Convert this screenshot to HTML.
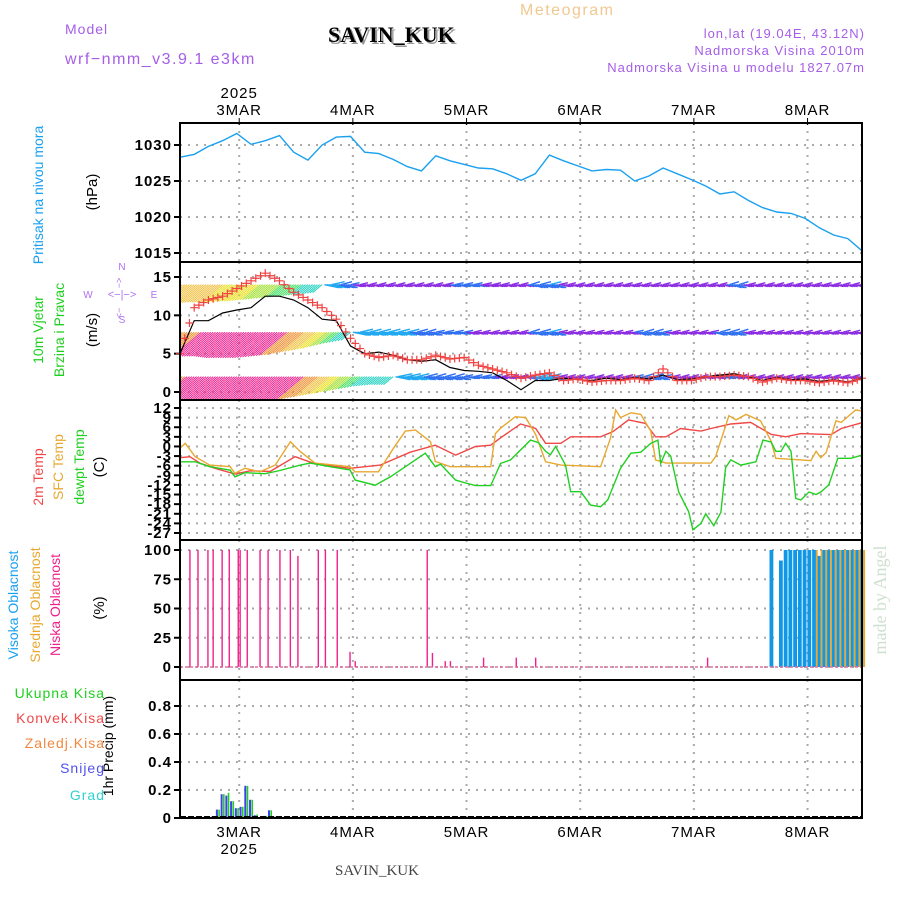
<!DOCTYPE html>
<html><head><meta charset="utf-8"><style>
body{margin:0;background:#fff}
svg{display:block;font-family:"Liberation Sans",sans-serif}
</style></head><body>
<svg id="c" width="900" height="900" viewBox="0 0 900 900">
<g id="hdr">
<text x="65" y="34" fill="#a55ee8" font-size="14" letter-spacing="1">Model</text>
<text x="65" y="64" fill="#a55ee8" font-size="16" letter-spacing="1.5">wrf−nmm_v3.9.1 e3km</text>
<text x="330" y="44" fill="#999" font-size="22" font-weight="bold" font-family="Liberation Serif,serif">SAVIN_KUK</text>
<text x="328" y="42" fill="#000" font-size="22" font-weight="bold" font-family="Liberation Serif,serif">SAVIN_KUK</text>
<text x="520" y="15" fill="#f0c890" font-size="16" letter-spacing="1.5">Meteogram</text>
<text x="865" y="38" fill="#a55ee8" font-size="13" letter-spacing="1" text-anchor="end">lon,lat (19.04E, 43.12N)</text>
<text x="865" y="55" fill="#a55ee8" font-size="13" letter-spacing="1" text-anchor="end">Nadmorska Visina 2010m</text>
<text x="865" y="72" fill="#a55ee8" font-size="13" letter-spacing="1" text-anchor="end">Nadmorska Visina u modelu 1827.07m</text>
</g>
</svg>
<script>
// ---- data (hours from start, start = x 180) ----
const dayLabels=["3MAR","4MAR","5MAR","6MAR","7MAR","8MAR"];
const pressureVals=[1028.3,1028.7,1029.8,1030.6,1031.6,1030.1,1030.6,1031.3,1029,1027.9,1030,1031.1,1031.2,1029,1028.8,1028,1027,1026.4,1028.5,1027.8,1027.3,1026.8,1026.7,1026,1025.1,1026,1028.6,1027.8,1027.1,1026.4,1026.6,1026.5,1025,1025.7,1026.8,1026,1025.2,1024.3,1023.2,1023.5,1022.3,1021.3,1020.7,1020.5,1019.8,1018.5,1017.5,1017,1015.3];
const pressureTicks=[1015,1020,1025,1030];
const windSpeed=[5,9.3,9.3,10.3,10.7,11,12.5,12.5,12,11,9.5,9.3,6,5,5.2,4.8,4.2,4,4.2,3.2,2.8,2.7,2.5,1.5,0.3,1.5,1.5,1.8,1.6,1.5,1.8,1.6,1.9,1.7,2.2,1.6,1.7,2,2.2,2.4,2,1.5,1.9,1.6,1.7,1.4,1.6,1.3,1.8];
const gustVals=[5,11,12,12.5,13.5,14.5,15.5,14.5,13,12,11,9.5,7,5,4.5,4.8,4.2,4.2,4.8,4.3,4.5,3.5,3,2.5,1.8,2.2,2.5,1.5,1.7,1.3,1.5,1.5,1.8,1.5,3,1.5,1.5,2,2,2.2,2,1.3,1.8,1.5,1.5,1.2,1.5,1.2,1.8];
const windTopLevel=[12,12,11,11,10.5,10,9,8,7,6,5,4,3,2.5,2.5,2.5,2.5,2.5,2.5,3,3,3,2.8,2.5,2.5,3.5,4,2.5,2.5,2.5,2.5,2.5,2.5,2.5,2.5,2.5,2.5,2.5,2.5,3.5,2.5,2.5,2.5,2.5,2.5,2.5,2.5,2.5,2.5];
const windMidLevel=[13,14,15,15,16,16,16,15,14,12,10,7,5,4,4,4,4,3.5,3,3,3,2.5,2.5,2.5,2.5,3.5,4,2.5,2.5,2.5,2.5,2.5,3,3.5,3,2.5,2.5,2.5,3.5,3.5,2.5,2.5,2.5,2.5,2.5,2.5,2.5,2.5,2.5];
const windLowLevel=[14,15,15,16,17,18,18,17,16,14,12,10,8,6,5,5,4.5,4,3.5,3.5,3,3,3,2.5,2.5,4,4,2.5,2.5,2.5,2.5,2.5,3,3.5,3,2.5,2.5,2.5,3,3,2.5,2.5,2.5,2.5,2.5,2.5,2.5,2.5,2.5];
const windTicks=[0,5,10,15];
const t2Hours=[0,2.1,4.2,7.4,11.6,14.8,19,24.3,28.5,35.9,42.3,48.6,53.9,58.2,62.4,65.6,67.7,71.9,75.1,77.2,80.4,82.5,88.8,91.4,94.7,98.3,100.4,102.6,105.7,110,112.1,116.3,120.5,124.8,127.9,131.1,137.5,139.6,144.2];
const t2Vals=[-3.5,-3.2,-5.2,-6.8,-8.6,-7.6,-7.8,-3.2,-5.4,-6.8,-5.8,-1.8,0.4,-2.7,0,0.4,2.7,7,5.6,1,1,3,3,4.6,8.3,7.2,3,3,5.6,4.8,5.6,7,7.5,3.8,3,4,3.7,5.6,7.5];
const sfcHours=[0,1.1,3.2,6.3,10.6,11.6,13.7,16.9,20.1,23.3,25.4,28.5,35.9,37,41.9,45.5,47.6,49.7,52.9,53.9,57.1,63.4,65.6,66.6,67.7,70.8,73,75.1,77.2,80.4,88.8,90.9,92,93,95.2,97.3,99.4,100.4,102.6,110,112.1,113.1,115.9,117.4,119.5,122.6,124.8,125.8,131.1,133.2,134.3,135.3,136.4,138.5,139.6,142.7,144.2];
const sfcVals=[-0.5,1,-3.2,-5.8,-6.3,-8.4,-6.8,-7.9,-5.8,1.5,-1.6,-5.2,-6.3,-7.9,-7.9,0.4,4.8,5.1,1.5,-4.7,-6.3,-6.3,-6.3,4,5.7,9.3,9,3.7,-4.8,-5.8,-6.3,2.6,11.4,9,10.5,10,4.8,-4.2,-5.2,-5.2,-5.2,-3.1,9.6,8.3,10,8,1.6,-3.7,-4.2,-4.4,-1.5,-3.5,-2,8,7.5,11.4,11];
const dewHours=[0,3.2,6.3,10.6,11.6,13.7,18,21.1,25.4,27.5,31.7,35.9,37,41.2,44.4,47.6,51.8,53.9,55,58.2,60.3,62.4,65.6,67.7,69.8,74,75.7,77.2,78.2,79.3,81.4,82.5,84.6,86.7,88.8,90.3,93,95.2,97.3,99.4,100.9,101.5,102.6,103.6,105.3,107.4,108.3,110,111,112.7,114.2,115.2,116.3,118.4,121.6,123.1,124.8,125.8,126.9,127.9,129,130,131.1,132.8,134.3,135.3,137,138.9,141.7,144.2];
const dewVals=[-4.8,-4.8,-6.3,-7.4,-9.5,-8.2,-8.5,-7.5,-5.8,-5.2,-6.3,-7.3,-10.5,-12.1,-9.5,-6.3,-2.1,-6.3,-5.5,-10.5,-11.4,-12.2,-12.2,-5.3,-4.2,2,1.2,-1.5,-2.6,0,-5.8,-14.1,-14.1,-18.3,-18.8,-16.7,-6.8,-2.1,-1.8,1,2,-5.3,-1.5,-3,-14.2,-20.4,-26,-24,-21,-24.7,-20.5,-6.6,-4.2,-5.8,-4.8,2,1.4,-1.5,-1.5,1,-1.5,-16.2,-16.7,-14.2,-15,-14.2,-12,-3.7,-3.7,-2.6];
const tempTicks=[12,9,6,3,0,-3,-6,-9,-12,-15,-18,-21,-24,-27];
const lowCloudHours=[2.1,3.8,5.9,7,8.9,10.4,12.3,12.7,14.2,16.9,18.6,21.1,23.3,24.9,29.2,30.7,33.2,35.9,37,52.2,53.3,56,57.1,64.1,71,75.1,111.4];
const lowCloudVals=[100,100,100,100,100,100,100,100,100,100,100,100,100,95,100,100,100,13,5,100,12,5,5,8,8,8,8];
const highCloudHours=[125,126,127,128,129,130,131,132,133,134,135,136,137,138,139,140,141,142,143,144];
const highCloudVals=[100,0,91,100,100,100,100,100,100,100,95,100,100,100,100,100,100,100,100,100];
const midCloudHours=[134,135,136,137,138,139,140,141,142,143,144];
const midCloudVals=[100,100,100,100,100,100,100,100,100,100,100];
const cloudTicks=[0,25,50,75,100];
const precipHours=[7,8,9,10,11,12,13,14,15,16,18,19,20,34];
const precipTotal=[0.01,0.06,0.17,0.18,0.12,0.07,0.08,0.23,0.13,0.025,0.015,0.055,0.01,0.01];
const precipSnow=[0.01,0.06,0.17,0.16,0.12,0.07,0.08,0.23,0.13,0.02,0.015,0.055,0.01,0];
const precipTicks=[0,0.2,0.4,0.6,0.8];

const NS="http://www.w3.org/2000/svg";
const svg=document.getElementById('c');
function el(tag,attrs,parent,txt){const e=document.createElementNS(NS,tag);for(const k in attrs)e.setAttribute(k,attrs[k]);if(txt!==undefined)e.textContent=txt;(parent||svg).appendChild(e);return e;}
const X0=180,X1=862,PPH=682/144;
function xh(h){return X0+h*PPH;}
function lin(v0,y0,v1,y1){return v=>y0+(v-v0)*(y1-y0)/(v1-v0);}
const yP=lin(1030,145,1015,253);
const yW=lin(0,392,15,277);
const yT=lin(12,408,-27,533);
const yC=lin(0,667,100,550);
const yR=lin(0,818,0.8,706);
const panels=[[123,262],[262,400],[400,540],[540,680],[680,818]];
const dayHours=[12.5,36.5,60.5,84.5,108.5,132.5];

// grid
panels.forEach((p,pi)=>{
  dayHours.forEach(h=>{
    const l=el('line',{x1:xh(h),x2:xh(h),y1:p[0],y2:p[1],stroke:'#aaa','stroke-width':2,'stroke-dasharray':'2,6'});
    
    
  });
});
function hgrid(ticks,yf,name){
  ticks.forEach(t=>{
    const l=el('line',{x1:X0,x2:X1,y1:yf(t),y2:yf(t),stroke:'#aaa','stroke-width':2,'stroke-dasharray':'2,6'});
    
    
    const tk=el('line',{x1:X0-6,x2:X0,y1:yf(t),y2:yf(t),stroke:'#000','stroke-width':2});
    
    
    const lab=el('text',{x:X0-8,y:yf(t)+5,'text-anchor':'end','font-size':15,'font-weight':'bold','letter-spacing':1},null,String(t));
    
    
  });
}
hgrid(pressureTicks,yP,'pressure');
hgrid(windTicks,yW,'wind');
hgrid(tempTicks,yT,'temp');
hgrid(cloudTicks,yC,'cloud');
hgrid(precipTicks,yR,'precip');

function path(hours,vals,yf,color,name,w){
  let d='';hours.forEach((h,i)=>{d+=(i?'L':'M')+xh(h).toFixed(1)+' '+yf(vals[i]).toFixed(1);});
  const p=el('path',{d:d,fill:'none',stroke:color,'stroke-width':w||1.4});
  
  
  return p;
}
const h3=pressureVals.map((v,i)=>i*3);
path(h3,pressureVals,yP,'#1aa0f0','pressure-line');

// wind barbs
function windColor(s){
  if(s<3)return '#8a2be2';if(s<4)return '#3070f0';if(s<5)return '#20a8f0';if(s<6.5)return '#20d0c0';
  if(s<8)return '#40e060';if(s<9.5)return '#a0e030';if(s<11)return '#e8e020';if(s<12.5)return '#f0c040';
  if(s<14.5)return '#f09030';return '#f02090';
}
const wg=el('g',{});


function interp(arr,h){const i=Math.floor(h/3),f=h/3-i;if(i>=arr.length-1)return arr[arr.length-1];return arr[i]*(1-f)+arr[i+1]*f;}
[[windTopLevel,14],[windMidLevel,7.8],[windLowLevel,2]].forEach(([src,base])=>{
  for(let h=0;h<=144;h+=0.5){
    const s=interp(src,h),x=xh(h),y=yW(base);
    let x2,y2;
    if(s>=5){const d=s*1.6;x2=x-d*1.2;y2=y+d;}
    else{x2=x+s*3;y2=y+(h%2?1.5:-1.5)*(s>3?2:1.3);}
    const ln=el('line',{x1:x,y1:y,x2:x2,y2:y2,stroke:windColor(s),'stroke-width':s<5?1.4:1},wg);
    
    
  }
});
const cp=el('clipPath',{id:'wclip'});el('rect',{x:X0,y:262,width:X1-X0,height:138},cp);
wg.setAttribute('clip-path','url(#wclip)');

// wind speed + gusts
path(h3,windSpeed,yW,'#000','wind-speed-line',1.2);
for(let h=0;h<=144;h+=1){
  const g=interp(gustVals,h),x=xh(h),y=yW(g);
  const c=el('path',{d:`M${x-4} ${y}H${x+4}M${x} ${y-4}V${y+4}`,stroke:'#f04040','stroke-width':1.2,fill:'none'});
  
  
}

// temperatures
path(t2Hours,t2Vals,yT,'#f04848','temp-2m-line');
path(sfcHours,sfcVals,yT,'#e8a830','temp-sfc-line');
path(dewHours,dewVals,yT,'#20d020','dewpoint-line');

// bars
function bars(hours,vals,yf,y0,color,w,off,name){
  hours.forEach((h,i)=>{
    if(vals[i]<=0)return;
    const r=el('rect',{x:xh(h)+off-w/2,y:yf(vals[i]),width:w,height:y0-yf(vals[i]),fill:color});
    
    
  });
}
bars(highCloudHours,highCloudVals,yC,667,'#1098e8',3.8,-0.6,'high-cloud-bar');
bars(midCloudHours,midCloudVals,yC,667,'#e8a830',1.8,2.2,'mid-cloud-bar');
bars(lowCloudHours,lowCloudVals,yC,667,'#f0208a',1.4,0,'low-cloud-bar');
const cb=el('line',{x1:X0,x2:X1,y1:667,y2:667,stroke:'#e070a0','stroke-width':1.5,'stroke-dasharray':'3,2'});



bars(precipHours,precipSnow,yR,818,'#4040f0',2,-1,'snow-bar');
bars(precipHours,precipTotal,yR,818,'#20d020',1.6,1.2,'total-precip-bar');
const pb=el('line',{x1:X0,x2:X1,y1:817,y2:817,stroke:'#000','stroke-width':2,'stroke-dasharray':'6,2'});



// frames
panels.forEach((p,i)=>{
  const r=el('rect',{x:X0,y:p[0],width:X1-X0,height:p[1]-p[0],fill:'none',stroke:'#000','stroke-width':2});
  
  
});
dayHours.forEach((h,i)=>{
  const t=el('text',{x:xh(h),y:115,'text-anchor':'middle','font-size':15,'letter-spacing':1},null,dayLabels[i]);
  
  
  const b=el('text',{x:xh(h),y:837,'text-anchor':'middle','font-size':15,'letter-spacing':1},null,dayLabels[i]);
  
  
  const tk=el('line',{x1:xh(h),x2:xh(h),y1:118,y2:125,stroke:'#000','stroke-width':1});
  
  
});
const y1=el('text',{x:xh(12.5),y:98,'text-anchor':'middle','font-size':15,'letter-spacing':1},null,'2025');


const y2=el('text',{x:xh(12.5),y:854,'text-anchor':'middle','font-size':15,'letter-spacing':1},null,'2025');



function vlabel(x,y,txt,color,name,fs,ff){
  const a={x:x,y:y,fill:color,'font-size':fs||14,'text-anchor':'middle',transform:`rotate(-90 ${x} ${y})`};
  if(ff)a['font-family']=ff;
  const t=el('text',a,null,txt);
  
  
}
vlabel(43,195,'Pritisak na nivou mora','#1aa0f0','pressure-title');
vlabel(97,192,'(hPa)','#000','pressure-unit',15);
vlabel(43,330,'10m Vjetar','#20d020','wind-title-1');
vlabel(64,330,'Brzina i Pravac','#20d020','wind-title-2');
vlabel(97,330,'(m/s)','#000','wind-unit',15);
vlabel(43,477,'2m Temp','#f04848','temp-title-2m');
vlabel(63,467,'SFC Temp','#e8a830','temp-title-sfc');
vlabel(84,467,'dewpt Temp','#20d020','temp-title-dew');
vlabel(104,467,'(C)','#000','temp-unit',15);
vlabel(18,605,'Visoka Oblacnost','#1aa0f0','cloud-title-high');
vlabel(40,605,'Srednja Oblacnost','#e8a830','cloud-title-mid');
vlabel(60,605,'Niska Oblacnost','#f0208a','cloud-title-low');
vlabel(104,608,'(%)','#000','cloud-unit',15);
vlabel(113,746,'1hr Precip (mm)','#000','precip-unit');
vlabel(886,600,'made by Angel','#d0e0d0','watermark',18,'Liberation Serif,serif');
[['Ukupna Kisa','#20d020',698],['Konvek.Kisa','#f04848',723],['Zaledj.Kisa','#f08840',748],['Snijeg','#5050f0',773],['Grad','#30d0d0',800]].forEach(([t,c,y])=>{
  const e=el('text',{x:105,y:y,fill:c,'font-size':14,'text-anchor':'end','letter-spacing':1},null,t);
  
  
});
const cg=el('g',{fill:'#b070f0','font-size':10,stroke:'none'});


el('text',{x:122,y:270,'text-anchor':'middle'},cg,'N');
el('text',{x:88,y:298,'text-anchor':'middle'},cg,'W');
el('text',{x:154,y:298,'text-anchor':'middle'},cg,'E');
el('text',{x:122,y:323,'text-anchor':'middle'},cg,'S');
el('text',{x:122,y:298,'text-anchor':'middle','font-size':11},cg,'<−|−>');
el('text',{x:122,y:283,'text-anchor':'middle','font-size':9,transform:'rotate(-90 122 283)'},cg,'−>');
el('text',{x:122,y:313,'text-anchor':'middle','font-size':9,transform:'rotate(-90 122 313)'},cg,'<−');
const bt=el('text',{x:377,y:875,'text-anchor':'middle','font-size':15,fill:'#444','font-family':'Liberation Serif,serif'},null,'SAVIN_KUK');


</script>
</body></html>
